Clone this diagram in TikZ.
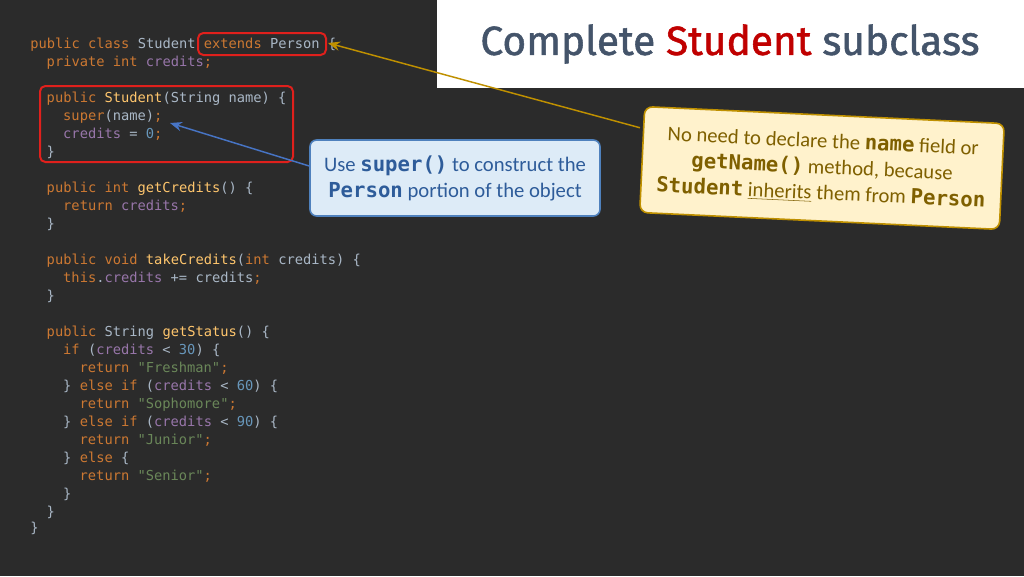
\documentclass[tikz,border=0pt]{standalone}
\usepackage{fontspec}
\setmainfont{Carlito}
\setmonofont{DejaVu Sans Mono}
\newfontfamily\titlefont[FakeBold=1.3]{Fira Sans}
\usetikzlibrary{arrows.meta}
\definecolor{bg}{HTML}{2B2B2B}
\definecolor{cdef}{HTML}{A9B7C6}
\definecolor{ckw}{HTML}{CC7832}
\definecolor{cfld}{HTML}{9876AA}
\definecolor{cmth}{HTML}{FFC66D}
\definecolor{cnum}{HTML}{6897BB}
\definecolor{cstr}{HTML}{6A8759}
\definecolor{ttl}{HTML}{44546A}
\definecolor{tred}{HTML}{C00000}
\definecolor{boxred}{HTML}{E0201C}
\definecolor{bfill}{HTML}{DDEBF7}
\definecolor{bdraw}{HTML}{4F81BD}
\definecolor{btext}{HTML}{2E5C9A}
\definecolor{yfill}{HTML}{FFF2CC}
\definecolor{ydraw}{HTML}{BF9000}
\definecolor{ytext}{HTML}{7F6000}
\newcommand\K[1]{\textcolor{ckw}{#1}}
\newcommand\F[1]{\textcolor{cfld}{#1}}
\newcommand\M[1]{\textcolor{cmth}{#1}}
\newcommand\Nm[1]{\textcolor{cnum}{#1}}
\newcommand\Sg[1]{\textcolor{cstr}{#1}}
\begin{document}
\begin{tikzpicture}[x=0.75pt,y=-0.75pt,
  code/.style={anchor=base west,inner sep=0,text=cdef,font=\fontsize{10.3pt}{12pt}\ttfamily},
  redbox/.style={draw=boxred,line width=1.5pt,rounded corners=4pt},
  callfont/.style={font=\fontsize{15.5pt}{19.5pt}\selectfont}]
\fill[bg] (0,0) rectangle (1024,576);
\useasboundingbox (0,0) rectangle (1024,576);
\fill[white] (437,0) rectangle (1024,88);
\node[font=\titlefont\fontsize{30.5pt}{32pt}\selectfont,text=ttl] (title) at (730,44) {Complete \textcolor{tred}{Student} subclass};
\def\c{8.24}
\node[code] (l1) at (30,48) {\K{public class} Student \K{extends} Person \{};
\node[code] (l2) at (30+2*\c,66) {\K{private int} \F{credits}\K{;}};
\node[code] (l3) at (30+2*\c,102) {\K{public} \M{Student}(String name) \{};
\node[code] (l4) at (30+4*\c,120) {\K{super}(name)\K{;}};
\node[code] (l5) at (30+4*\c,138) {\F{credits} = \Nm{0}\K{;}};
\node[code] (l6) at (30+2*\c,156) {\}};
\node[code] (l7) at (30+2*\c,192) {\K{public int} \M{getCredits}() \{};
\node[code] (l8) at (30+4*\c,210) {\K{return} \F{credits}\K{;}};
\node[code] (l9) at (30+2*\c,228) {\}};
\node[code] (l10) at (30+2*\c,264) {\K{public void} \M{takeCredits}(\K{int} credits) \{};
\node[code] (l11) at (30+4*\c,282) {\K{this}.\F{credits} += credits\K{;}};
\node[code] (l12) at (30+2*\c,300) {\}};
\node[code] (l13) at (30+2*\c,336) {\K{public} String \M{getStatus}() \{};
\node[code] (l14) at (30+4*\c,354) {\K{if} (\F{credits} < \Nm{30}) \{};
\node[code] (l15) at (30+6*\c,372) {\K{return} \Sg{"Freshman"}\K{;}};
\node[code] (l16) at (30+4*\c,390) {\} \K{else if} (\F{credits} < \Nm{60}) \{};
\node[code] (l17) at (30+6*\c,408) {\K{return} \Sg{"Sophomore"}\K{;}};
\node[code] (l18) at (30+4*\c,426) {\} \K{else if} (\F{credits} < \Nm{90}) \{};
\node[code] (l19) at (30+6*\c,444) {\K{return} \Sg{"Junior"}\K{;}};
\node[code] (l20) at (30+4*\c,462) {\} \K{else} \{};
\node[code] (l21) at (30+6*\c,480) {\K{return} \Sg{"Senior"}\K{;}};
\node[code] (l22) at (30+4*\c,498) {\}};
\node[code] (l23) at (30+2*\c,516) {\}};
\node[code] (l24) at (30,532) {\}};
% red boxes
\draw[redbox] (198,33) rectangle (326,55);
\coordinate (ext) at (328,43);
\draw[redbox] (40,86) rectangle (293,162);
\coordinate (sup) at (170,123);
% blue callout
\node[draw=bdraw,fill=bfill,line width=1.2pt,rounded corners=5pt,minimum width=290pt*0.75,minimum height=76pt*0.75,align=center,text=btext,callfont] (blue) at (455,178)
 {Use \textbf{\ttfamily super()} to construct the\\\textbf{\ttfamily Person} portion of the object};
\draw[-{Stealth[length=9pt,width=7pt]},draw=bdraw!90!blue,fill=bdraw,line width=1.1pt] (blue.west) ++(0,-12) -- (sup);
% yellow callout
\node[draw=ydraw,fill=yfill,line width=1.2pt,rounded corners=6pt,rotate=-2.7,minimum width=360pt*0.75,minimum height=106pt*0.75,align=center,text=ytext,callfont] (yel) at (822,168)
 {No need to declare the \textbf{\ttfamily name} field or\\\textbf{\ttfamily getName()} method, because\\\textbf{\ttfamily Student} \underline{inherits} them from \textbf{\ttfamily Person}};
\draw[-{Stealth[length=9pt,width=7pt]},draw=ydraw,fill=ydraw,line width=1.1pt] (yel.north west) ++(-4,22) -- (ext);
\end{tikzpicture}
\end{document}
